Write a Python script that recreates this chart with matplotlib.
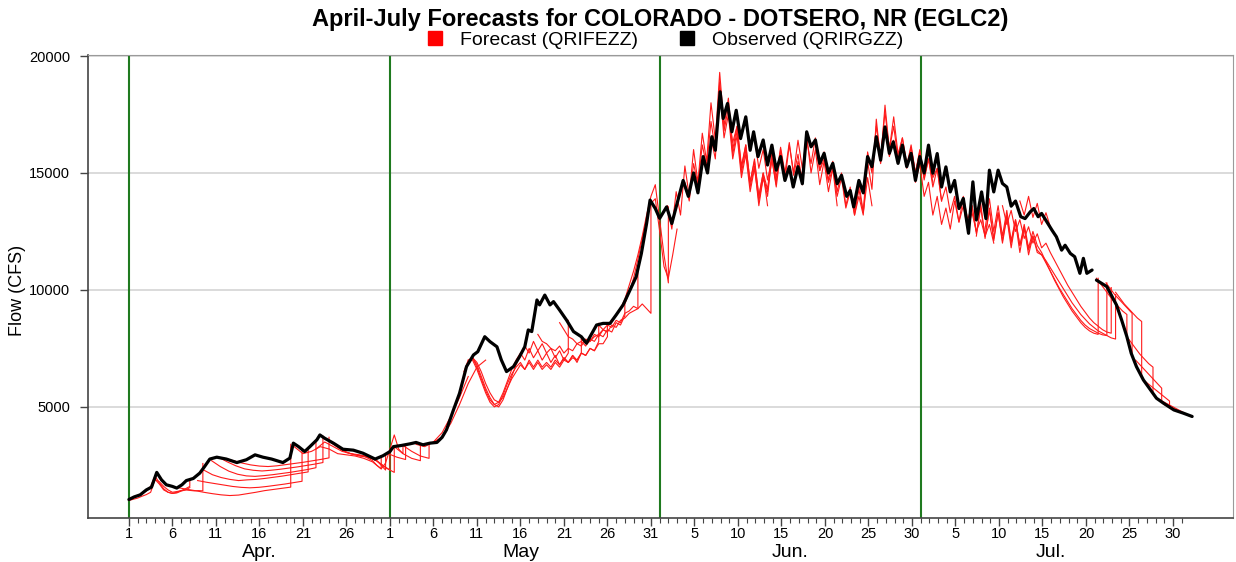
import numpy as np
import pandas as pd
import matplotlib
matplotlib.use("Agg")
import matplotlib.pyplot as plt
from matplotlib.lines import Line2D
import matplotlib.transforms as mtransforms

plt.rcParams['font.family'] = ['Liberation Sans', 'DejaVu Sans']

SEASON_START = pd.Timestamp('2019-04-01')
SEASON_END = pd.Timestamp('2019-07-31')

TITLE = "April-July Forecasts for COLORADO - DOTSERO, NR (EGLC2)"
FORECAST_LABEL = "Forecast (QRIFEZZ)"
OBSERVED_LABEL = "Observed (QRIRGZZ)"
Y_LABEL = "Flow (CFS)"
Y_TICKS = [5000, 10000, 15000, 20000]
MONTH_LABELS = ["Apr.", "May", "Jun.", "Jul."]

# Observed flow: days since Apr 1 and flow in cfs (NaN marks a data gap)
obs_day = [
    0.0, 0.6, 1.3, 2.0, 2.6, 3.2, 3.75, 4.3, 5.0, 5.5, 6.1, 6.6, 7.4, 8.15, 8.7,
    9.3, 10.1, 11.2, 12.4, 13.5, 14.5, 15.4, 16.4, 17.7, 18.5, 18.9, 19.5, 20.2,
    20.8, 21.6, 21.95, 22.5, 23.5, 24.6, 25.8, 26.9, 28.3, 29.2, 30.0,
    30.4, 31.3, 32.3, 33.0, 33.8, 34.6, 35.4, 36.0, 36.5, 37.3, 38.0, 38.8, 39.6,
    40.1, 40.9, 41.5, 42.3, 42.8, 43.4, 44.2, 44.9, 45.5, 45.9, 46.3, 46.9, 47.2,
    47.8, 48.4, 48.8, 49.5, 50.3, 51.1, 52.0, 52.6, 53.0, 53.75, 54.5, 55.3, 56.0,
    56.8, 57.6, 58.3, 58.9, 59.5, 59.9, 60.5, 61.0, 61.8, 62.4, 63.1, 63.7, 64.3,
    64.9, 65.4, 66.0, 66.5, 67.0, 67.4, 67.95, 68.3, 68.8, 69.3, 69.8, 70.3, 70.9,
    71.4, 71.8, 72.3, 72.9, 73.4, 73.9, 74.4, 74.9, 75.4, 75.9, 76.35, 76.9, 77.4,
    77.9, 78.4, 78.9, 79.4, 79.9, 80.4, 80.9, 81.4, 81.9, 82.5, 82.9, 83.3, 83.9,
    84.4, 84.9, 85.4, 85.9, 86.4, 86.9, 87.4, 87.85, 88.4, 88.9, 89.4, 89.9, 90.4,
    90.9, 91.4, 91.9, 92.4, 92.9, 93.4, 93.9, 94.4, 94.9, 95.4, 95.9, 96.5, 97.0,
    97.4, 98.0, 98.5, 98.9, 99.4, 99.9, 100.4, 100.9, 101.4, 101.9, 102.5, 103.0,
    103.6, 104.0, 104.5, 104.9, 105.5, 106.1, 106.6, 107.2, 107.6, 108.2, 108.7,
    109.3, 109.7, 110.1, 110.7, 110.95, 111.2, 111.8, 112.4, 113.0, 113.5, 114.1,
    114.7, 115.2, 115.8, 116.6, 117.4, 118.1, 118.9, 120.1, 121.2, 122.2,
]
obs_cfs = [
    1040, 1150, 1240, 1450, 1570, 2200, 1880, 1670, 1600, 1530, 1670, 1850, 1940, 2170, 2450,
    2770, 2850, 2770, 2620, 2740, 2950, 2850, 2770, 2620, 2810, 3450, 3300, 3090,
    3300, 3590, 3800, 3660, 3450, 3190, 3150, 3020, 2770, 2910, 3090,
    3300, 3350, 3420, 3480, 3380, 3450, 3480, 3700, 4020, 4870, 5580, 6720, 7220,
    7360, 8000, 7790, 7570, 7010, 6510, 6720, 7150, 7570, 8290, 8220, 9570, 9360,
    9780, 9360, 9500, 9140, 8710, 8220, 8000, 7720, 8000, 8500, 8570, 8570, 8930,
    9360, 10000, 10560, 11560, 12840, 13840, 13480, 13060, 13550, 12840, 13840, 14680, 14000,
    15000, 14150, 15700, 15000, 16550, 15970, 18470, 17330, 17970, 16760, 17680, 16470, 17400,
    15970, 16760, 15700, 16410, 15340, 16190, 15120, 15700, 14680, 15270, 14400, 15270, 14540,
    16760, 16120, 16410, 15410, 15840, 15000, 15410, 14540, 14900, 14000, 14250, 13550, 14680,
    14150, 15700, 15270, 16550, 15550, 16970, 15840, 16330, 15410, 16190, 15270, 15840, 14680,
    15700, 15000, 16190, 14990, 15830, 14400, 15260, 14190, 14680, 13480, 13910, 12420, 14620,
    12990, 14190, 13050, 15120, 14190, 15120, 14550, 14400, 13580, 13800, 13130, 13050,
    13340, 13480, 13130, 13270, 12910, 12550, 12270, 11700, 11910, 11560, 11420,
    10710, 11350, 10710, 10850, np.nan, 10420, 10280, 10140, 9710, 9360, 8710,
    8000, 7290, 6720, 6150, 5730, 5370, 5160, 4870, 4730, 4590,
]

# Forecast runs: (first day, step in days, flows in cfs, closing flow or None)
fc_april = [
    (0.0, 0.5, [1000, 1050, 1100, 1180, 1250, 1350, 1900, 1700, 1450, 1350, 1300, 1320, 1400, 1450, 1550], None),
    (1.0, 0.5, [1200, 1300, 1400, 1600, 2050, 1750, 1500, 1350, 1300, 1350, 1420, 1500, 1600], 1850),
    (3.0, 0.5, [1900, 1800, 1600, 1450, 1350, 1380, 1420, 1450, 1430, 1410, 1420, 1410], 2580),
    (5.6, 1.0, [1550, 1480, 1420, 1350, 1290, 1240, 1210, 1230, 1290, 1350, 1420, 1470, 1520, 1570], 3400),
    (7.9, 1.0, [1850, 1780, 1720, 1660, 1600, 1560, 1540, 1560, 1600, 1650, 1700, 1760, 1820], 3150),
    (8.6, 1.0, [2300, 2100, 1980, 1900, 1850, 1880, 1900, 1940, 1990, 2040, 2100, 2160, 2220], 3250),
    (9.5, 1.0, [2700, 2450, 2250, 2120, 2050, 2030, 2060, 2100, 2150, 2200, 2260, 2320, 2400], 3500),
    (10.3, 1.0, [2850, 2650, 2480, 2350, 2290, 2260, 2290, 2330, 2380, 2430, 2490, 2550, 2620], 3750),
    (11.0, 1.0, [2800, 2700, 2600, 2520, 2470, 2450, 2480, 2530, 2580, 2630, 2690, 2750, 2820], 3700),
    (19.0, 1.0, [3300, 3000, 3100, 3300, 3200, 3000, 2950, 2900, 2800, 2650, 2350], 2900),
    (21.5, 1.0, [3200, 3500, 3300, 3100, 3000, 2950, 2850, 2700, 2300], 2950),
    (22.5, 1.0, [3650, 3400, 3150, 3000, 2900, 2850, 2700, 2400, 2200], 3300),
    (24.0, 1.0, [3300, 3050, 2950, 2900, 2800, 2550, 2300], 3100),
    (27.0, 0.5, [2900, 2800, 2700, 2500, 2350, 2600, 3200, 3800, 3200, 3000], 3350),
]

fc_may = [
    (29.8, 1.0, [3000, 2850, 2750], 3380),
    (30.5, 1.0, [3300, 3000, 2800, 2700], 3400),
    (31.5, 1.0, [3350, 3100, 2900, 2800], 3450),
    (33.0, 1.0, [3400, 3300, 3500, 3900, 4600, 5400, 6300], None),
    (35.0, 1.0, [3500, 3700, 4300, 5100, 6000, 6700, 7000], None),
    (38.0, 0.5, [5600, 6300, 6900, 7100, 6900, 6500, 6000, 5600, 5300, 5200, 5400, 5800, 6300,
                 6800, 7200, 7600, 7300, 7800, 7400, 7700, 7300, 7500, 7100, 7400, 7000, 7300], 8700),
    (38.5, 0.5, [6500, 7000, 7100, 6700, 6200, 5700, 5300, 5100, 5200, 5600, 6100, 6600, 7000,
                 7300, 7000, 7500, 7100, 7400, 7000, 7300, 6900, 7200, 6800, 7100, 6900, 7200,
                 6900, 7300], 8000),
    (39.0, 0.5, [7000, 7000, 6600, 6100, 5600, 5200, 5000, 5100, 5500, 6000, 6400, 6700, 6900,
                 6600, 7000, 6700, 7000, 6700, 6900, 6700, 7000, 6800, 7100, 6900, 7200, 7000,
                 7300, 7200, 7500, 7400, 7800], 8570),
    (39.5, 0.5, [7100, 6800, 6300, 5800, 5400, 5100, 5000, 5300, 5800, 6200, 6500, 6800, 6600,
                 6900, 6600, 6900, 6600, 6800, 6600, 6900, 6700, 7000, 6900, 7100, 7000, 7300,
                 7200, 7500, 7400, 7700, 7700, 8000], 8570),
    (47.0, 0.5, [8100, 7800, 7700, 7500, 7400, 7600, 7300, 7500, 7400, 7700, 7600, 7900, 7800,
                 8100, 8000, 8300, 8200], 8570),
    (49.5, 0.5, [8600, 8300, 8000, 7900, 7700, 7800, 7600, 7900, 7800, 8100, 8000, 8300, 8200,
                 8600, 8500, 8900], 9360),
    (52.0, 0.5, [7900, 7700, 7800, 8000, 8100, 8300, 8200, 8500, 8400, 8700, 8800, 9000, 9100, 9200], 10900),
    (54.0, 0.5, [8500, 8300, 8500, 8400, 8700, 8600, 9000, 9100, 9300, 9200, 9400, 9200, 9000], 13800),
    (55.5, 0.5, [8700, 8900, 9200, 9600, 10200, 10800, 11500, 12300, 13200, 14000, 14500, 13000,
                 11500, 10300], 13550),
    (57.0, 0.5, [9400, 9900, 10500, 11300, 12200, 13000, 13700, 13900, 12500, 11000, 10500, 11500, 12600], None),
]

fc_june = [
    (61.9, 0.5, [13600, 12600, 14200, 13200, 15300, 14000, 16000, 14600, 16700, 15500, 18000, 16400,
                 19300, 17000, 18200, 16000, 17000, 15200, 16200, 14600, 15600, 14000, 15000, 13600], None),
    (63.9, 0.5, [14600, 13800, 15400, 14500, 16200, 15300, 17200, 16000, 18600, 16500, 17500, 15600,
                 16600, 14800, 15800, 14200, 15200, 13800, 14800, 14200, 15600, 14500], None),
    (66.9, 0.5, [16500, 15600, 18900, 16800, 17800, 15800, 16800, 15000, 16000, 14400, 15300, 13600,
                 14800, 14000, 15700, 14600, 16000, 14800], None),
    (68.9, 0.5, [17600, 16300, 17000, 15300, 16200, 14600, 15500, 14000, 15000, 14300, 15900, 14800,
                 16100, 15000, 16300, 14900, 15800, 14500], None),
    (71.9, 0.5, [16500, 15200, 16000, 14700, 15600, 14400, 15900, 14700, 16200, 15000, 16400, 15200,
                 16600, 15000, 16000, 14500, 15500, 14200, 15200, 13600], None),
    (75.9, 0.5, [15300, 14400, 15500, 14800, 16400, 15400, 16500, 15100, 15900, 14700, 15500, 14200,
                 15000, 13600, 14400, 13200, 14300, 13300, 14800, 13600], None),
    (78.9, 0.5, [16200, 15100, 15600, 14600, 15200, 14000, 14800, 13500, 14200, 13200, 14000, 13200,
                 15500, 14300, 17300, 15500, 17900, 16000, 17400, 15800, 16500, 15400], None),
    (82.9, 0.5, [14200, 13400, 14600, 13300, 15900, 15000, 17000, 15700, 17600, 16000, 17000, 15600,
                 16500, 15300, 16200, 15000, 16000, 14800, 15600, 14600], None),
    (85.9, 0.5, [16500, 15400, 16900, 15700, 16400, 15400, 16200, 15200, 16100, 15000, 15900, 14700,
                 15600, 14400, 15200, 13800], None),
]

fc_july = [
    (89.9, 0.5, [15800, 14600, 15400, 14000, 14600, 13200, 14000, 12800, 13500, 12600, 13800, 12900,
                 14000, 13000, 13600, 12500], None),
    (91.9, 0.5, [16000, 14800, 15200, 13800, 14400, 13300, 14000, 12900, 13600, 12600, 13300, 12500,
                 13000, 12300, 12800, 12000], None),
    (96.4, 0.5, [12500, 13600, 12400, 13500, 12300, 13400, 12200, 13300, 12100, 13200, 12000, 13000,
                 11900, 12800, 11800, 12500, 11900,
                 11600, 11200, 10800, 10400, 10050, 9700, 9400, 9100, 8850, 8600, 8400, 8250, 8150, 8100], 10500),
    (97.4, 0.5, [12300, 13700, 12200, 13500, 12100, 13300, 12000, 13100, 11800, 12900, 11600, 12700,
                 11500, 12300, 11700,
                 11500, 11150, 10800, 10450, 10100, 9800, 9500, 9200, 8950, 8700, 8500, 8350, 8250,
                 8150, 8080, 8050], 10300),
    (98.4, 0.5, [12600, 13900, 12500, 13600, 12300, 13400, 12100, 13000, 11900, 12600, 11700, 12300, 11600,
                 11500, 11250, 10950, 10650, 10350, 10050, 9750, 9450, 9200, 8950, 8750, 8550, 8400,
                 8250, 8150, 8050, 7950, 7900], 9800),
    (100.4, 0.5, [13600, 12800, 13400, 12500, 13000, 12200, 12700, 12000, 12400, 11800, 12000,
                  11600, 11250, 10900, 10550, 10200, 9900, 9600, 9300, 9050, 8800, 8600, 8450, 8300,
                  8200, 8150], 10100),
    (102.4, 0.5, [13800, 13200, 14000, 13100, 13700, 12800, 13300, 12700], None),
    (111.2, 0.5, [10500, 10250, 10000, 9750, 9500, 9300, 9100, 8950], 8000),
    (112.3, 0.5, [10300, 10050, 9800, 9600, 9400, 9200, 9000], 7300),
    (113.4, 0.5, [9900, 9650, 9400, 9200, 9000, 8800, 8650], 6300),
    (114.7, 0.5, [8000, 7750, 7500, 7250, 7050, 6850, 6700], 5600),
    (115.7, 0.5, [7000, 6800, 6600, 6400, 6200, 6000, 5800], 5200),
    (116.6, 0.5, [6150, 6000, 5850, 5700, 5550, 5400, 5250], 5000),
    (118.0, 0.5, [5400, 5300, 5200, 5100, 5000, 4900, 4800, 4700], None),
    (119.0, 0.5, [5100, 5000, 4950, 4850, 4750, 4680, 4600], None),
]

FC_COLOR = '#ff1a1a'
GREEN = '#1f7a1f'

fig = plt.figure(figsize=(12.36, 5.62), dpi=100)
ax = fig.add_axes([0.0712, 0.0783, 0.9264, 0.8237])

# forecast traces
for start, step, vals, close in fc_april + fc_may + fc_june + fc_july:
    days = list(start + step * np.arange(len(vals)))
    flows = list(vals)
    if close is not None:
        days.append(days[-1])
        flows.append(close)
    ax.plot(days, flows, color=FC_COLOR, lw=0.8, zorder=3, solid_joinstyle='round')

# observed flow
ax.plot(obs_day, obs_cfs, color='black', lw=2.3, zorder=4,
        solid_joinstyle='round', solid_capstyle='round')

# month boundaries
month_starts = pd.date_range(SEASON_START, SEASON_END, freq='MS')
for ms in month_starts:
    ax.axvline((ms - SEASON_START).days, color=GREEN, lw=1.5, zorder=2)

# axes limits
ax.set_xlim(-4.7, 126.9)
ax.set_ylim(250, 20040)

# y axis
ax.set_yticks(Y_TICKS)
ax.set_yticklabels([str(v) for v in Y_TICKS], fontsize=10.5)
ax.yaxis.grid(True, color='#d4d4d4', lw=1.2)
ax.set_axisbelow(True)
ax.tick_params(axis='y', direction='out', length=6, width=1, color='#444444', pad=7)

# x axis: labelled tick every 5 days, small tick every day
label_dates = pd.date_range(SEASON_START, SEASON_END, freq='5D')
day_dates = pd.date_range(SEASON_START, SEASON_END, freq='D')
ax.set_xticks([(d - SEASON_START).days for d in label_dates])
ax.set_xticklabels([str(d.day) for d in label_dates], fontsize=10.5)
ax.set_xticks([(d - SEASON_START).days for d in day_dates], minor=True)
ax.tick_params(axis='x', which='major', direction='out', length=6, width=1, color='#444444', pad=0.5)
ax.tick_params(axis='x', which='minor', direction='out', length=3.5, width=0.8, color='#444444')

# month names under the day labels
trans = mtransforms.blended_transform_factory(ax.transData, ax.transAxes)
for ms, name in zip(month_starts, MONTH_LABELS):
    mid = (ms - SEASON_START).days + 15
    ax.text(mid, -0.074, name, transform=trans, ha='center', va='center', fontsize=14)

for side in ['top', 'right']:
    ax.spines[side].set_color('#9a9a9a')
for side in ['left', 'bottom']:
    ax.spines[side].set_color('#444444')
    ax.spines[side].set_linewidth(1.2)

fig.text(0.0145, 0.484, Y_LABEL, rotation=90, ha='center', va='center', fontsize=13)
fig.text(0.534, 0.966, TITLE, ha='center', va='center', fontsize=17, fontweight='bold')

handles = [
    Line2D([], [], marker='s', color='none', markerfacecolor='#ff0000', markeredgecolor='#ff0000', markersize=10),
    Line2D([], [], marker='s', color='none', markerfacecolor='black', markeredgecolor='black', markersize=10),
]
fig.legend(handles, [FORECAST_LABEL, OBSERVED_LABEL], loc='center', bbox_to_anchor=(0.5376, 0.928),
           ncol=2, frameon=False, fontsize=14, handlelength=1.0, handletextpad=0.8,
           columnspacing=2.0, borderpad=0.1)

fig.savefig('out.png', dpi=100)
